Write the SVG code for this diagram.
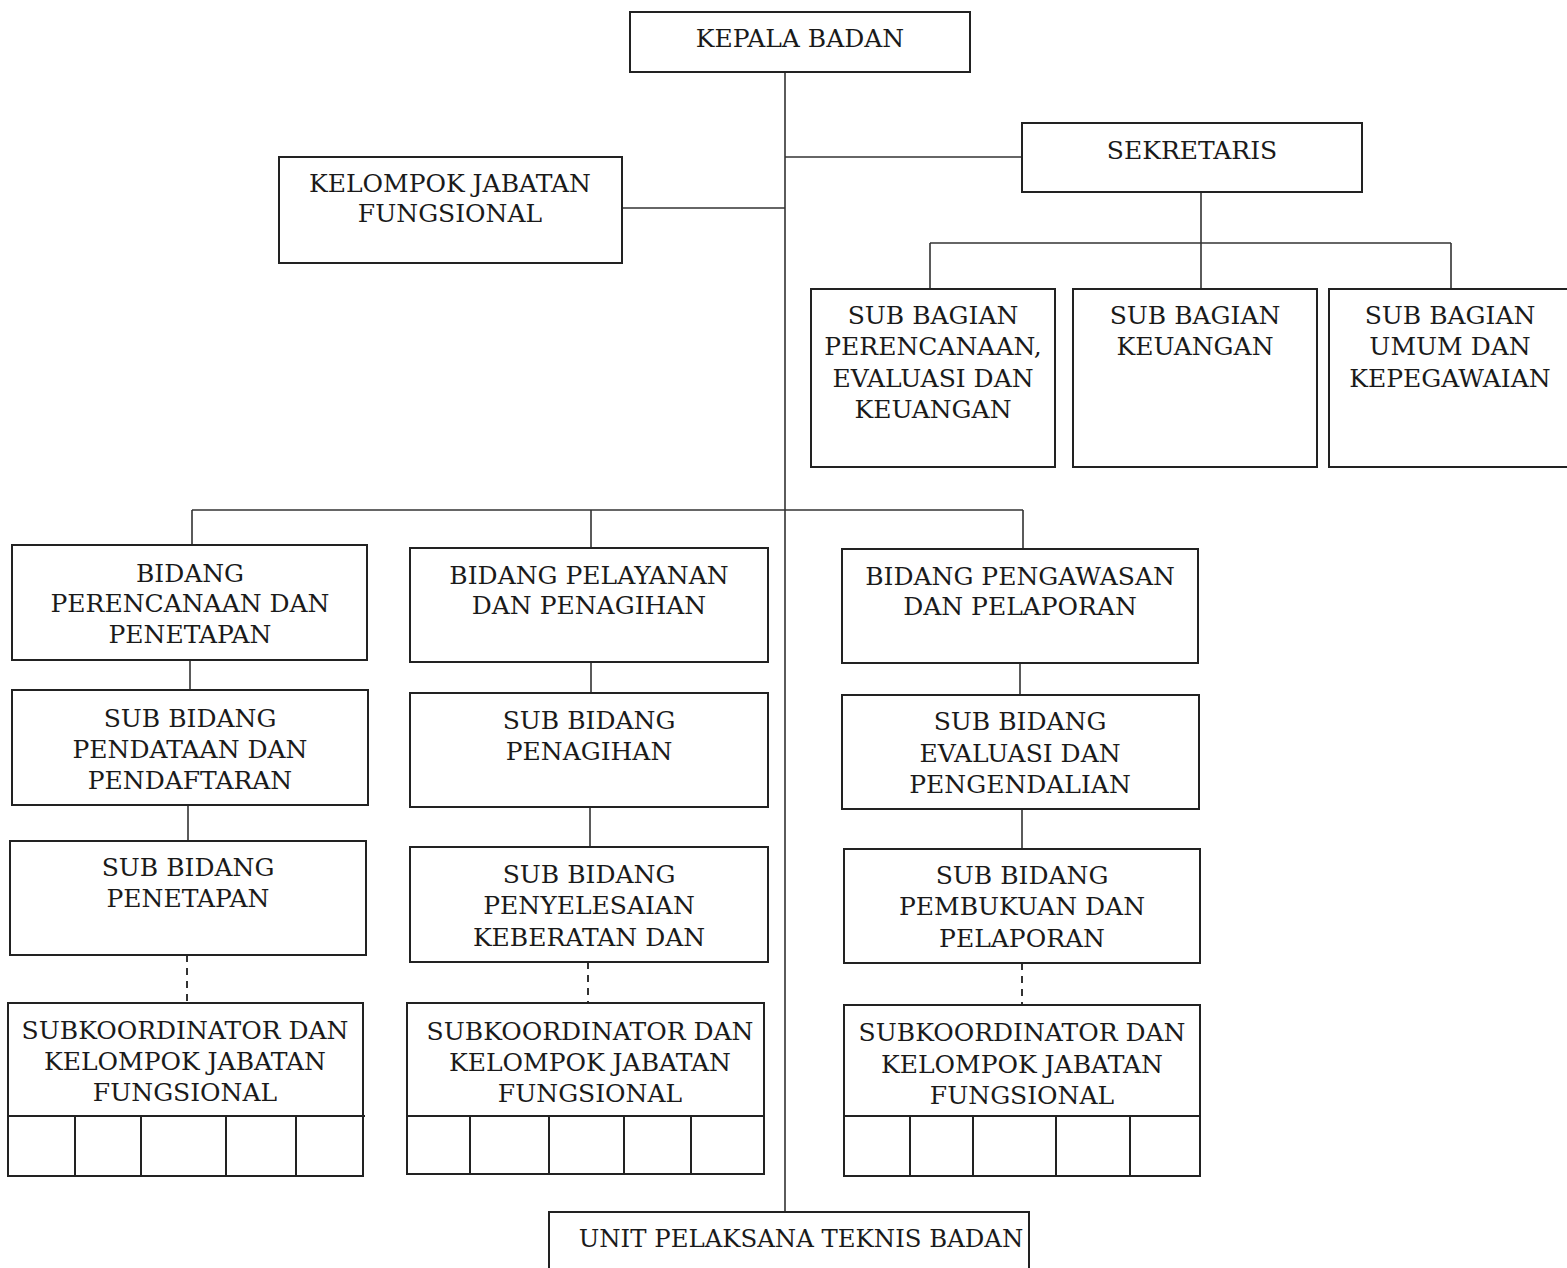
<svg xmlns="http://www.w3.org/2000/svg" width="1567" height="1268" viewBox="0 0 1567 1268">
<style>
.box{fill:#fff;stroke:#222;stroke-width:2}
.ln{fill:none;stroke:#333;stroke-width:1.6}
.dash{fill:none;stroke:#333;stroke-width:2;stroke-dasharray:7,6}
text{font-family:"DejaVu Serif","Liberation Serif",serif;font-size:25px;fill:#1a1a1a;text-anchor:middle}
</style>
<rect width="1567" height="1268" fill="#fff"/>
<g id="connectors">
<path class="ln" d="M785 72V1212"/>
<path class="ln" d="M785 157H1022"/>
<path class="ln" d="M622 208H785"/>
<path class="ln" d="M1201 192V289"/>
<path class="ln" d="M930 243H1451"/>
<path class="ln" d="M930 243V289M1451 243V289"/>
<path class="ln" d="M192 510H1023"/>
<path class="ln" d="M192 510V545M591 510V548M1023 510V549"/>
<path class="ln" d="M190 660V690M188 805V841"/>
<path class="ln" d="M591 662V693M590 807V847"/>
<path class="ln" d="M1020 663V695M1022 809V849"/>
<path class="dash" d="M187 955V1003M588 962V1003M1022 963V1005"/>
</g>
<g id="kepala"><rect class="box" x="630" y="12" width="340" height="60"/><text x="800" y="47">KEPALA BADAN</text></g>
<g id="sekretaris"><rect class="box" x="1022" y="123" width="340" height="69"/><text x="1192" y="159">SEKRETARIS</text></g>
<g id="kjf"><rect class="box" x="279" y="157" width="343" height="106"/><text x="450" y="192">KELOMPOK JABATAN</text><text x="450" y="222">FUNGSIONAL</text></g>
<g id="sb-perencanaan"><rect class="box" x="811" y="289" width="244" height="178"/><text x="933" y="324">SUB BAGIAN</text><text x="933" y="355">PERENCANAAN,</text><text x="933" y="387">EVALUASI DAN</text><text x="933" y="418">KEUANGAN</text></g>
<g id="sb-keuangan"><rect class="box" x="1073" y="289" width="244" height="178"/><text x="1195" y="324">SUB BAGIAN</text><text x="1195" y="355">KEUANGAN</text></g>
<g id="sb-umum"><rect class="box" x="1329" y="289" width="250" height="178"/><text x="1450" y="324">SUB BAGIAN</text><text x="1450" y="355">UMUM DAN</text><text x="1450" y="387">KEPEGAWAIAN</text></g>
<g id="bid-perencanaan"><rect class="box" x="12" y="545" width="355" height="115"/><text x="190" y="582">BIDANG</text><text x="190" y="612">PERENCANAAN DAN</text><text x="190" y="643">PENETAPAN</text></g>
<g id="sbid-pendataan"><rect class="box" x="12" y="690" width="356" height="115"/><text x="190" y="727">SUB BIDANG</text><text x="190" y="758">PENDATAAN DAN</text><text x="190" y="789">PENDAFTARAN</text></g>
<g id="sbid-penetapan"><rect class="box" x="10" y="841" width="356" height="114"/><text x="188" y="876">SUB BIDANG</text><text x="188" y="907">PENETAPAN</text></g>
<g id="subkoord-1"><rect class="box" x="8" y="1003" width="355" height="173"/><path class="box" d="M8 1116H365M75 1116V1176M141 1116V1176M226 1116V1176M296 1116V1176"/><text x="185" y="1039">SUBKOORDINATOR DAN</text><text x="185" y="1070">KELOMPOK JABATAN</text><text x="185" y="1101">FUNGSIONAL</text></g>
<g id="bid-pelayanan"><rect class="box" x="410" y="548" width="358" height="114"/><text x="589" y="584">BIDANG PELAYANAN</text><text x="589" y="614">DAN PENAGIHAN</text></g>
<g id="sbid-penagihan"><rect class="box" x="410" y="693" width="358" height="114"/><text x="589" y="729">SUB BIDANG</text><text x="589" y="760">PENAGIHAN</text></g>
<g id="sbid-penyelesaian"><rect class="box" x="410" y="847" width="358" height="115"/><text x="589" y="883">SUB BIDANG</text><text x="589" y="914">PENYELESAIAN</text><text x="589" y="946">KEBERATAN DAN</text></g>
<g id="subkoord-2"><rect class="box" x="407" y="1003" width="357" height="171"/><path class="box" d="M407 1116H764M470 1116V1174M549 1116V1174M624 1116V1174M691 1116V1174"/><text x="590" y="1040">SUBKOORDINATOR DAN</text><text x="590" y="1071">KELOMPOK JABATAN</text><text x="590" y="1102">FUNGSIONAL</text></g>
<g id="bid-pengawasan"><rect class="box" x="842" y="549" width="356" height="114"/><text x="1020" y="585">BIDANG PENGAWASAN</text><text x="1020" y="615">DAN PELAPORAN</text></g>
<g id="sbid-evaluasi"><rect class="box" x="842" y="695" width="357" height="114"/><text x="1020" y="730">SUB BIDANG</text><text x="1020" y="762">EVALUASI DAN</text><text x="1020" y="793">PENGENDALIAN</text></g>
<g id="sbid-pembukuan"><rect class="box" x="844" y="849" width="356" height="114"/><text x="1022" y="884">SUB BIDANG</text><text x="1022" y="915">PEMBUKUAN DAN</text><text x="1022" y="947">PELAPORAN</text></g>
<g id="subkoord-3"><rect class="box" x="844" y="1005" width="356" height="171"/><path class="box" d="M844 1116H1200M910 1116V1176M973 1116V1176M1056 1116V1176M1130 1116V1176"/><text x="1022" y="1041">SUBKOORDINATOR DAN</text><text x="1022" y="1073">KELOMPOK JABATAN</text><text x="1022" y="1104">FUNGSIONAL</text></g>
<g id="upt"><rect class="box" x="549" y="1212" width="480" height="80"/><text x="801" y="1247" style="font-size:24.4px">UNIT PELAKSANA TEKNIS BADAN</text></g>
</svg>
